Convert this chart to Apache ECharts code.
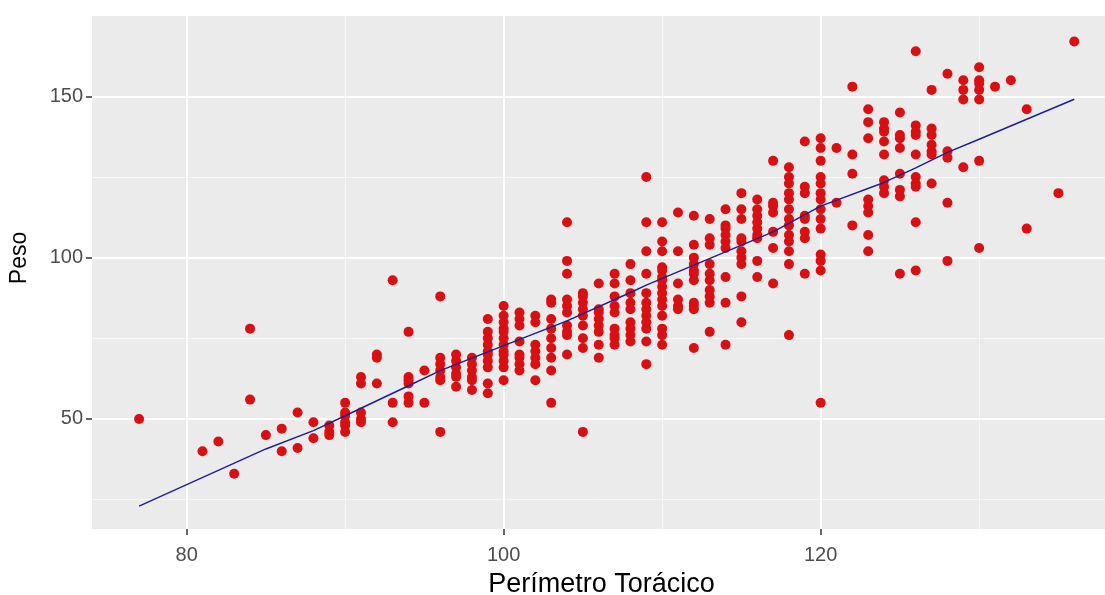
<!DOCTYPE html>
<html>
<head>
<meta charset="utf-8">
<script src="https://cdn.jsdelivr.net/npm/echarts@6/dist/echarts.min.js"></script>
<style>
  html, body { margin: 0; padding: 0; background: #ffffff; }
  #chart { width: 1105px; height: 595px; }
</style>
</head>
<body>
<div id="chart"></div>
<script>
// Perímetro torácico (cm) of each column of observations
const perimetro = [77, 81, 82, 83, 84, 85, 86, 87, 88, 89, 90, 91, 92, 93, 94, 95, 96, 97, 98, 99,
  100, 101, 102, 103, 104, 105, 106, 107, 108, 109, 110, 111, 112, 113, 114, 115, 116, 117, 118, 119,
  120, 121, 122, 123, 124, 125, 126, 127, 128, 129, 130, 131, 132, 133, 135, 136];

// Peso (kg) observed at each perímetro, same order as above
const pesoPorPerimetro = [
  [50], [40], [43], [33], [78, 56], [45], [47, 40], [52, 41], [49, 44], [48, 46, 45],
  [55, 52, 51, 49, 48, 46],
  [63, 61, 52, 50, 49],
  [70, 69, 61],
  [93, 55, 49],
  [77, 63, 62, 61, 57, 55],
  [65, 55],
  [88, 69, 67, 65, 63, 62, 46],
  [70, 68, 66, 64, 63, 60],
  [69, 67, 65, 63, 62, 59],
  [81, 77, 75, 73, 71, 70, 68, 66, 61, 58],
  [85, 82, 80, 78, 77, 75, 73, 71, 70, 68, 66, 62],
  [83, 81, 79, 74, 70, 69, 67, 65],
  [82, 80, 73, 71, 69, 67, 62],
  [87, 86, 81, 78, 75, 72, 69, 65, 55],
  [111, 99, 95, 87, 85, 83, 79, 77, 76, 70],
  [89, 88, 86, 84, 82, 79, 75, 72, 46],
  [92, 84, 83, 81, 79, 77, 73, 69],
  [95, 92, 88, 85, 83, 78, 76, 75, 73],
  [98, 93, 89, 86, 84, 80, 78, 76, 74],
  [125, 111, 102, 95, 89, 86, 84, 82, 80, 78, 74, 67],
  [111, 105, 102, 97, 96, 94, 93, 91, 89, 87, 85, 82, 78, 76, 73],
  [114, 102, 92, 87, 85, 84],
  [113, 104, 100, 98, 96, 95, 93, 86, 85, 84, 72],
  [112, 106, 104, 98, 95, 93, 90, 88, 86, 77],
  [115, 110, 109, 107, 105, 103, 94, 86, 73],
  [120, 115, 112, 106, 105, 102, 100, 98, 88, 80],
  [118, 115, 113, 111, 109, 107, 106, 99, 94],
  [130, 117, 116, 114, 108, 103, 92],
  [128, 125, 123, 120, 118, 115, 112, 110, 107, 105, 102, 98, 76],
  [136, 122, 120, 113, 112, 108, 106, 95],
  [137, 134, 130, 125, 123, 120, 118, 115, 112, 109, 101, 99, 96, 55],
  [134, 117],
  [153, 132, 126, 110],
  [146, 142, 137, 118, 116, 114, 107, 102],
  [142, 140, 139, 136, 132, 124, 122, 120],
  [145, 138, 137, 134, 126, 121, 119, 95],
  [164, 141, 139, 138, 132, 125, 123, 122, 111, 96],
  [152, 140, 138, 135, 133, 132, 123],
  [157, 133, 131, 117, 99],
  [155, 152, 149, 128],
  [159, 155, 154, 152, 149, 130, 103],
  [153], [155], [146, 109], [120], [167]
];

// Fitted weight along the chest range
const ajusteX = [77, 85, 88, 90, 94, 96, 99, 104, 108, 109, 117, 120, 124, 126, 128, 130, 133, 136];
const ajusteY = [23, 40.7, 46.4, 51, 60.3, 65, 70.8, 80.4, 89.2, 91.5, 108, 116, 123.3, 127.8, 132.6, 136.7, 142.9, 149.1];

// Axis ticks and grid positions
const xTicks = [80, 100, 120];
const xMinor = [90, 110, 130];
const yTicks = [50, 100, 150];
const yMinor = [25, 75, 125];

const puntos = [];
perimetro.forEach((x, i) => pesoPorPerimetro[i].forEach(y => puntos.push([x, y])));
const ajuste = ajusteX.map((x, i) => [x, ajusteY[i]]);

const majorStyle = { color: '#ffffff', width: 2, type: 'solid' };
const minorStyle = { color: '#f7f7f7', width: 1, type: 'solid' };
const gridLines = [
  ...yMinor.map(v => ({ yAxis: v, lineStyle: minorStyle })),
  ...xMinor.map(v => ({ xAxis: v, lineStyle: minorStyle })),
  ...yTicks.map(v => ({ yAxis: v, lineStyle: majorStyle })),
  ...xTicks.map(v => ({ xAxis: v, lineStyle: majorStyle }))
];

const chart = echarts.init(document.getElementById('chart'), null, { renderer: 'canvas' });
const fontFamily = '"Liberation Sans", Arial, sans-serif';

chart.setOption({
  animation: false,
  backgroundColor: '#ffffff',
  grid: {
    left: 92, right: 0, top: 16, bottom: 66,
    containLabel: false,
    outerBoundsMode: 'none',
    show: true, backgroundColor: '#ebebeb', borderWidth: 0
  },
  xAxis: {
    type: 'value',
    min: 74.03, max: 137.94,
    name: 'Perímetro Torácico',
    nameLocation: 'middle',
    nameGap: 42,
    nameTextStyle: { color: '#000000', fontSize: 27, fontFamily: fontFamily, padding: [0, 0, 0, 6] },
    axisLine: { show: false },
    axisTick: { show: true, customValues: xTicks, length: 6, lineStyle: { color: '#333333', width: 1.5 } },
    axisLabel: { customValues: xTicks, color: '#4d4d4d', fontSize: 20, fontFamily: fontFamily, margin: 16 },
    splitLine: { show: false }
  },
  yAxis: {
    type: 'value',
    min: 15.9, max: 174.9,
    name: 'Peso',
    nameLocation: 'middle',
    nameGap: 61,
    nameTextStyle: { color: '#000000', fontSize: 23, fontFamily: fontFamily, padding: [0, 0, 0, 29] },
    axisLine: { show: false },
    axisTick: { show: true, customValues: yTicks, length: 6, lineStyle: { color: '#333333', width: 1.5 } },
    axisLabel: { customValues: yTicks, color: '#4d4d4d', fontSize: 20, fontFamily: fontFamily, margin: 9 },
    splitLine: { show: false }
  },
  series: [
    {
      name: 'rejilla',
      type: 'line',
      data: [],
      silent: true,
      z: 1,
      markLine: { silent: true, z: 1, symbol: 'none', label: { show: false }, animation: false, data: gridLines }
    },
    {
      name: 'Peso',
      type: 'scatter',
      data: puntos,
      symbol: 'circle',
      symbolSize: 10,
      itemStyle: { color: '#d90f12', opacity: 1 },
      z: 3
    },
    {
      name: 'Ajuste',
      type: 'line',
      data: ajuste,
      showSymbol: false,
      smooth: false,
      lineStyle: { color: '#1d1d96', width: 1.4 },
      z: 4
    }
  ]
});
</script>
</body>
</html>
